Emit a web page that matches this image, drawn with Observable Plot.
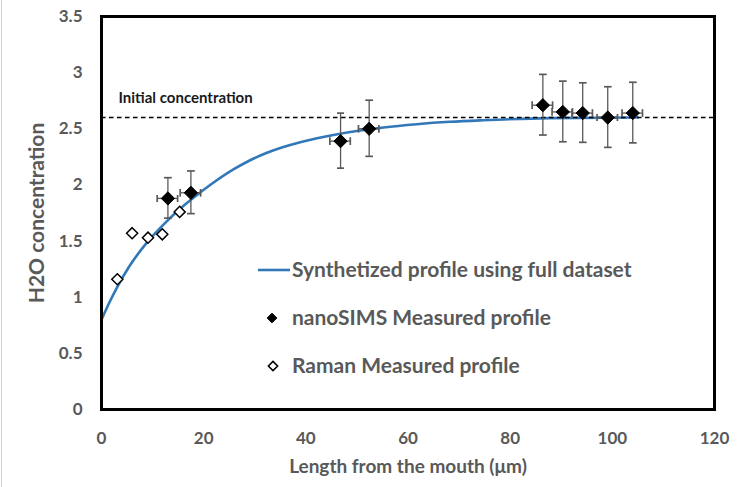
<!DOCTYPE html>
<html>
<head>
<meta charset="utf-8">
<script src="https://cdn.jsdelivr.net/npm/d3@7"></script>
<script src="https://cdn.jsdelivr.net/npm/@observablehq/plot@0.6"></script>
<style>
  html, body { margin: 0; padding: 0; background: white; }
  #chart { position: relative; width: 749px; height: 487px; }
  #edge { position: absolute; left: 1px; top: 0; width: 1px; height: 487px; background: #d0d0d0; }
</style>
</head>
<body>
<div id="chart"><div id="edge"></div></div>
<script>
// ---- data ----
const xTicks = [0, 20, 40, 60, 80, 100, 120];
const yTicks = [0, 0.5, 1, 1.5, 2, 2.5, 3, 3.5];
const xTitle = "Length from the mouth (μm)";
const yTitle = "H2O concentration";
const initialLabel = "Initial concentration";
const initialConcentration = 2.6;

// synthetized profile
const profileX = [0, 1.4, 3.1, 5.3, 8.6, 11.9, 15.1, 18.4, 21.6, 25.9, 29.1, 32.4, 35.6, 38.9, 42.2, 45.4, 50.6, 55.2, 61.7, 68.2, 74.7, 87.7, 105];
const profileY = [0.80, 0.94, 1.093, 1.265, 1.47, 1.635, 1.776, 1.90, 2.01, 2.14, 2.22, 2.286, 2.337, 2.38, 2.416, 2.445, 2.484, 2.512, 2.541, 2.562, 2.576, 2.595, 2.60];

// nanoSIMS measured profile
const simsX    = [13.0, 17.5, 46.8, 52.4, 86.4, 90.3, 94.2, 99.1, 104.0];
const simsY    = [1.88, 1.93, 2.39, 2.50, 2.71, 2.65, 2.64, 2.60, 2.64];
const simsYErr = [0.18, 0.19, 0.245, 0.25, 0.27, 0.27, 0.265, 0.27, 0.27];
const simsXErr = [2, 2, 2, 2, 2, 2, 2, 2, 2];

// Raman measured profile
const ramanX = [3.1, 6.0, 9.1, 11.9, 15.3];
const ramanY = [1.16, 1.57, 1.53, 1.56, 1.76];

const legendLabels = ["Synthetized profile using full dataset", "nanoSIMS Measured profile", "Raman Measured profile"];

// ---- tables built from arrays ----
const profile = profileX.map((x, i) => ({x, y: profileY[i]}));
const sims = simsX.map((x, i) => ({x, y: simsY[i], ye: simsYErr[i], xe: simsXErr[i]}));
const raman = ramanX.map((x, i) => ({x, y: ramanY[i]}));

const blue = "#3278b9";
const grey = "#595959";
const font = "Lato, sans-serif";

const plot = Plot.plot({
  width: 749,
  height: 487,
  marginLeft: 101,
  marginRight: 35,
  marginTop: 16,
  marginBottom: 78,
  style: {fontFamily: font, fontWeight: "bold", fontSize: "17px", color: grey, background: "white"},
  x: {domain: [0, 120]},
  y: {domain: [0, 3.5]},
  marks: [
    Plot.axisX({ticks: xTicks, tickSize: 0, tickPadding: 22, label: null, fontSize: 17}),
    Plot.axisY({ticks: yTicks, tickSize: 0, tickPadding: 19, tickFormat: d => String(d), label: null, fontSize: 17}),
    Plot.text([xTitle], {frameAnchor: "bottom", dy: 57, lineAnchor: "middle", textAnchor: "middle", text: d => d, fontSize: 19, fill: grey}),
    Plot.text([yTitle], {frameAnchor: "left", dx: -64, rotate: -90, lineAnchor: "middle", textAnchor: "middle", text: d => d, fontSize: 21, fill: grey}),
    Plot.line(profile, {x: "x", y: "y", stroke: blue, strokeWidth: 2.6, curve: "monotone-x"}),
    Plot.ruleY([initialConcentration], {stroke: "black", strokeWidth: 1.5, strokeDasharray: "4.5,3.5"}),
    Plot.text([initialConcentration], {y: d => d, frameAnchor: "left", dx: 17, dy: -19, textAnchor: "start", text: () => initialLabel, fill: "#1a1a1a", fontSize: 15}),
    Plot.ruleX(sims, {x: "x", y1: d => d.y - d.ye, y2: d => d.y + d.ye, stroke: grey, strokeWidth: 1.3, markerStart: "tick", markerEnd: "tick"}),
    Plot.ruleY(sims, {y: "y", x1: d => d.x - d.xe, x2: d => d.x + d.xe, stroke: grey, strokeWidth: 1.3, markerStart: "tick", markerEnd: "tick"}),
    Plot.dot(sims, {x: "x", y: "y", symbol: "diamond2", r: 6, fill: "black", stroke: "black", strokeWidth: 1}),
    Plot.dot(raman, {x: "x", y: "y", symbol: "diamond2", r: 5, fill: "white", stroke: "black", strokeWidth: 1.5}),
    Plot.frame({stroke: "black", strokeWidth: 3})
  ]
});

document.getElementById("chart").appendChild(plot);

// ---- legend (inside the plot area) ----
const svg = d3.select(plot);
const lg = svg.append("g")
  .attr("font-family", font).attr("font-weight", "bold").attr("font-size", 21)
  .attr("fill", grey).attr("text-anchor", "start");
const rows = [270, 318, 366];
lg.append("line").attr("x1", 258).attr("x2", 290).attr("y1", rows[0]).attr("y2", rows[0]).attr("stroke", blue).attr("stroke-width", 2.6);
lg.append("path").attr("transform", `translate(272,${rows[1]})`).attr("d", d3.symbol(d3.symbolDiamond2, 60)()).attr("fill", "black").attr("stroke", "black");
lg.append("path").attr("transform", `translate(273,${rows[2]})`).attr("d", d3.symbol(d3.symbolDiamond2, 55)()).attr("fill", "white").attr("stroke", "black").attr("stroke-width", 1.5);
legendLabels.forEach((t, i) => {
  lg.append("text").attr("x", 292).attr("y", rows[i]).attr("dy", "0.35em").attr("text-anchor", "start").text(t);
});
</script>
</body>
</html>
